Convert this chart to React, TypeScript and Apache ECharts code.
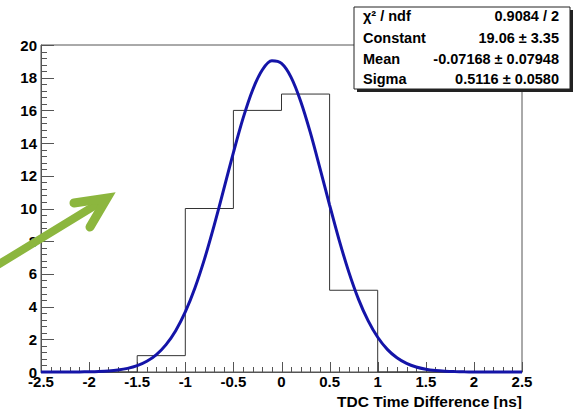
import React, { useEffect, useRef } from "react";
import * as echarts from "echarts";

// Histogram: bin edges and counts
const binEdges = [-2.5, -2.0, -1.5, -1.0, -0.5, 0.0, 0.5, 1.0, 1.5, 2.0, 2.5];
const binCounts = [0, 0, 1, 10, 16, 17, 5, 0, 0, 0];

const fitX = [
  -2.5, -2.4, -2.3, -2.2, -2.1, -2.0, -1.9, -1.8, -1.7, -1.6, -1.5, -1.4, -1.3, -1.2, -1.1,
  -1.0, -0.9, -0.8, -0.7, -0.6, -0.5, -0.4, -0.3, -0.2, -0.1, 0.0, 0.1, 0.2, 0.3, 0.4,
  0.5, 0.6, 0.7, 0.8, 0.9, 1.0, 1.1, 1.2, 1.3, 1.4, 1.5, 1.6, 1.7, 1.8, 1.9, 2.0,
  2.1, 2.2, 2.3, 2.4, 2.5,
];
const fitY = [
  0.0002, 0.0005, 0.001, 0.003, 0.0074, 0.0157, 0.032, 0.063, 0.12, 0.22, 0.387, 0.655, 1.068, 1.675, 2.528,
  3.675, 5.139, 6.919, 8.966, 11.18, 13.42, 15.51, 17.25, 18.47, 19.03, 18.87, 18.02, 16.55, 14.64, 12.46,
  10.21, 8.05, 6.11, 4.46, 3.14, 2.125, 1.384, 0.868, 0.524, 0.304, 0.17, 0.0915, 0.0474, 0.0237, 0.0113, 0.005,
  0.002, 0.0008, 0.0003, 0.0001, 0.0,
];

// Axis ranges and tick steps
const xRange = [-2.5, 2.5];
const xMajor = 0.5;
const xMinorPerMajor = 5;
const yRange = [0, 20];
const yMajor = 2;
const yMinorPerMajor = 5;

// Stats box
const statLabels = ["\u03c7\u00b2 / ndf", "Constant", "Mean", "Sigma"];
const statValues = ["0.9084 / 2", "19.06 \u00b1 3.35", "-0.07168 \u00b1 0.07948", "0.5116 \u00b1 0.0580"];

const xTitle = "TDC Time Difference [ns]";

const FONT = "'Liberation Sans', Arial, Helvetica, sans-serif";

function tickList(range: number[], major: number, perMajor: number) {
  const step = major / perMajor;
  const n = Math.round((range[1] - range[0]) / step);
  const out: number[][] = [];
  for (let i = 0; i <= n; i++) {
    const v = Math.round((range[0] + i * step) * 1000) / 1000;
    out.push([v, i % perMajor === 0 ? 1 : 0]);
  }
  return out;
}

export default function App() {
  const ref = useRef<HTMLDivElement>(null);
  useEffect(() => {
    if (!ref.current) return;
    const chart = echarts.init(ref.current, undefined, { renderer: "svg" });

    const histPts: number[][] = [];
    for (let i = 0; i < binCounts.length; i++) {
      histPts.push([binEdges[i], binCounts[i]]);
      histPts.push([binEdges[i + 1], binCounts[i]]);
    }
    const fitPts = fitX.map((x, i) => [x, fitY[i]]);

    const xTicks = tickList(xRange, xMajor, xMinorPerMajor);
    const yTicks = tickList(yRange, yMajor, yMinorPerMajor);

    const boxLeft = 354;
    const boxTop = 7;
    const boxW = 216;
    const boxH = 82;
    const rowY = [16, 38, 59, 79];

    const statTexts: any[] = [];
    statLabels.forEach((l, i) => {
      statTexts.push({
        type: "text",
        x: 363,
        y: rowY[i],
        z: 102,
        style: {
          text: l,
          font: `bold 14.5px ${FONT}`,
          fill: "#000",
          textAlign: "left",
          textVerticalAlign: "middle",
        },
      });
      statTexts.push({
        type: "text",
        x: 559,
        y: rowY[i],
        z: 102,
        style: {
          text: statValues[i],
          font: `bold 14.5px ${FONT}`,
          fill: "#000",
          textAlign: "right",
          textVerticalAlign: "middle",
        },
      });
    });

    const arrowColor = "#8cb63e";
    const tickColor = "#555";

    const labelStyle = {
      fontFamily: FONT,
      fontWeight: "bold",
      fontSize: 15,
      color: "#000",
    };

    chart.setOption({
      animation: false,
      grid: {
        left: 41,
        top: 45,
        width: 481,
        height: 328,
        show: true,
        borderColor: tickColor,
        borderWidth: 1,
      },
      xAxis: {
        type: "value",
        min: xRange[0],
        max: xRange[1],
        interval: xMajor,
        name: xTitle,
        nameLocation: "end",
        nameGap: 0,
        nameTextStyle: {
          ...labelStyle,
          fontSize: 15.5,
          align: "right",
          verticalAlign: "top",
          padding: [21, 0, 0, 0],
        },
        axisLine: { show: true, onZero: false, lineStyle: { color: tickColor } },
        axisTick: { show: false },
        axisLabel: { ...labelStyle, margin: 2 },
        splitLine: { show: false },
      },
      yAxis: {
        type: "value",
        min: yRange[0],
        max: yRange[1],
        interval: yMajor,
        axisLine: { show: true, onZero: false, lineStyle: { color: tickColor } },
        axisTick: { show: false },
        axisLabel: { ...labelStyle, margin: 4 },
        splitLine: { show: false },
      },
      series: [
        {
          // x-axis ticks (major and minor), drawn inside the frame
          type: "custom",
          silent: true,
          data: xTicks,
          encode: { x: 0 },
          z: 4,
          renderItem: (params: any, api: any) => {
            const p = api.coord([api.value(0), yRange[0]]);
            const len = api.value(1) ? 10 : 5;
            const x = Math.round(p[0]) + 0.5;
            return {
              type: "line",
              shape: { x1: x, y1: p[1], x2: x, y2: p[1] - len },
              style: { stroke: tickColor, lineWidth: 1 },
            };
          },
        },
        {
          // y-axis ticks (major and minor), drawn inside the frame
          type: "custom",
          silent: true,
          data: yTicks.map((t) => [xRange[0], t[0], t[1]]),
          encode: { x: 0, y: 1 },
          z: 4,
          renderItem: (params: any, api: any) => {
            const p = api.coord([api.value(0), api.value(1)]);
            const len = api.value(2) ? 13 : 6;
            const y = Math.round(p[1]) + 0.5;
            return {
              type: "line",
              shape: { x1: p[0], y1: y, x2: p[0] + len, y2: y },
              style: { stroke: tickColor, lineWidth: 1 },
            };
          },
        },
        {
          type: "line",
          data: histPts,
          showSymbol: false,
          symbol: "none",
          lineStyle: { color: "#333", width: 1 },
          z: 5,
        },
        {
          type: "line",
          data: fitPts,
          smooth: 0.3,
          showSymbol: false,
          symbol: "none",
          clip: false,
          lineStyle: { color: "#1414a8", width: 3 },
          z: 6,
        },
      ],
      graphic: [
        {
          type: "rect",
          z: 100,
          shape: { x: boxLeft + 3, y: boxTop + 3, width: boxW, height: boxH },
          style: { fill: "#222" },
        },
        {
          type: "rect",
          z: 101,
          shape: { x: boxLeft, y: boxTop, width: boxW, height: boxH },
          style: { fill: "#fff", stroke: "#222", lineWidth: 1 },
        },
        ...statTexts,
        {
          type: "line",
          z: 110,
          shape: { x1: -4, y1: 266, x2: 104, y2: 200 },
          style: {
            stroke: arrowColor,
            lineWidth: 8,
            lineCap: "round",
          },
        },
        {
          type: "polyline",
          z: 111,
          shape: { points: [[74, 203], [107, 198], [90, 227]] },
          style: {
            stroke: arrowColor,
            fill: "none",
            lineWidth: 9,
            lineCap: "round",
            lineJoin: "miter",
          },
        },
      ],
    });
    return () => chart.dispose();
  }, []);

  return (
    <div
      ref={ref}
      style={{ position: "fixed", left: 0, top: 0, width: 577, height: 409, background: "#fff" }}
    />
  );
}
